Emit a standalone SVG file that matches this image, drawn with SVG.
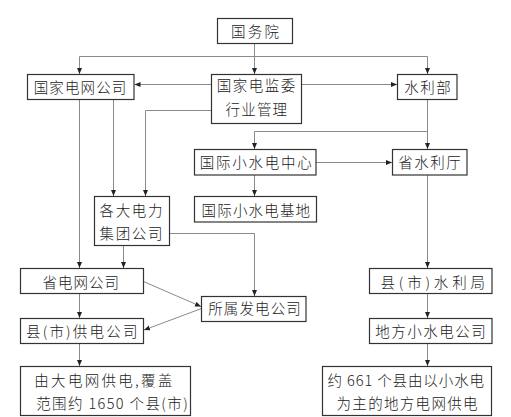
<svg xmlns="http://www.w3.org/2000/svg" width="511" height="417" viewBox="0 0 511 417">
<defs>
<marker id="ah" markerUnits="userSpaceOnUse" markerWidth="7" markerHeight="6" refX="6" refY="2.5" orient="auto">
<path d="M0,0 L6,2.5 L0,5 z" fill="#222"/>
</marker>
<style>
.box{fill:#fff;stroke:#333;stroke-width:1.2}
.ln{fill:none;stroke:#8a8a8a;stroke-width:1}
.ar{marker-end:url(#ah)}
text{font-family:"Noto Sans CJK SC","Noto Sans",sans-serif;font-size:14.5px;font-weight:300;fill:#222;text-anchor:middle}
</style>
</defs>
<rect width="511" height="417" fill="#fff"/>
<g id="connectors">
<path class="ln ar" d="M254.5,43.5 V74"/>
<path class="ln" d="M79.5,56.5 H427.5"/>
<path class="ln ar" d="M79.5,56.5 V74"/>
<path class="ln ar" d="M427.5,56.5 V74"/>
<path class="ln ar" d="M211.5,84.5 H134.5"/>
<path class="ln ar" d="M301.5,84.5 H397"/>
<path class="ln ar" d="M79.5,99.5 V268"/>
<path class="ln ar" d="M113.5,99.5 V196"/>
<path class="ln ar" d="M211.5,110.5 H145.5 V196"/>
<path class="ln ar" d="M427.5,99.5 V149"/>
<path class="ln ar" d="M427.5,131.5 H254.5 V149"/>
<path class="ln ar" d="M316,162.5 H392"/>
<path class="ln ar" d="M254.5,175 V196"/>
<path class="ln ar" d="M169.5,233.5 H254.5 V296"/>
<path class="ln ar" d="M123.5,245.5 V268"/>
<path class="ln ar" d="M427.5,175 V268"/>
<path class="ln ar" d="M143.5,281.5 L201,306.5"/>
<path class="ln ar" d="M201.5,308.5 L144,330"/>
<path class="ln ar" d="M79.5,293.5 V318"/>
<path class="ln ar" d="M79.5,343.5 V366"/>
<path class="ln ar" d="M427.5,293.5 V318"/>
<path class="ln ar" d="M427.5,343.5 V366"/>
</g>
<g id="n1"><rect class="box" x="217.5" y="18.5" width="75" height="25"/><text x="255" y="37" textLength="48" lengthAdjust="spacing">国务院</text></g>
<g id="n2"><rect class="box" x="27.5" y="74.5" width="106.5" height="25"/><text x="80" y="92.7" textLength="92.5" lengthAdjust="spacing">国家电网公司</text></g>
<g id="n3"><rect class="box" x="211.5" y="74.5" width="90" height="49"/><text x="256" y="90.8" textLength="78.5" lengthAdjust="spacing">国家电监委</text><text x="256.3" y="115" textLength="61.5" lengthAdjust="spacing">行业管理</text></g>
<g id="n4"><rect class="box" x="397.5" y="74.5" width="59.5" height="25"/><text x="427.5" y="92.7" textLength="46.5" lengthAdjust="spacing">水利部</text></g>
<g id="n5"><rect class="box" x="194.5" y="149.5" width="121.5" height="25.5"/><text x="255.7" y="168.3" textLength="112" lengthAdjust="spacing">国际小水电中心</text></g>
<g id="n6"><rect class="box" x="392.5" y="149.5" width="74.5" height="25.5"/><text x="429.5" y="168.3" textLength="62.5" lengthAdjust="spacing">省水利厅</text></g>
<g id="n7"><rect class="box" x="194.5" y="196.5" width="122" height="25.5"/><text x="255.8" y="215.8" textLength="108.5" lengthAdjust="spacing">国际小水电基地</text></g>
<g id="n8"><rect class="box" x="94.5" y="196.5" width="75" height="49"/><text x="131" y="216.3" textLength="63" lengthAdjust="spacing">各大电力</text><text x="131" y="238.8" textLength="63" lengthAdjust="spacing">集团公司</text></g>
<g id="n9"><rect class="box" x="20.5" y="268.5" width="123" height="25"/><text x="80.8" y="287.7" textLength="76.5" lengthAdjust="spacing">省电网公司</text></g>
<g id="n10"><rect class="box" x="369.5" y="268.5" width="122.5" height="25"/><text x="432.7" y="287.7" textLength="104.5" lengthAdjust="spacing">县(市)水利局</text></g>
<g id="n11"><rect class="box" x="201.5" y="296.5" width="104.5" height="25"/><text x="254.5" y="313.8" textLength="92.5" lengthAdjust="spacing">所属发电公司</text></g>
<g id="n12"><rect class="box" x="20.5" y="318.5" width="123" height="25"/><text x="81.7" y="337.2" textLength="111.5" lengthAdjust="spacing">县(市)供电公司</text></g>
<g id="n13"><rect class="box" x="369.5" y="318.5" width="122.5" height="25"/><text x="430.5" y="337.2" textLength="110.5" lengthAdjust="spacing">地方小水电公司</text></g>
<g id="n14"><rect class="box" x="20.5" y="366.5" width="170" height="49"/><text x="103.3" y="385.5" textLength="138" lengthAdjust="spacing">由大电网供电,覆盖</text><text x="112" y="408.8" textLength="151.5" lengthAdjust="spacing">范围约 1650 个县(市)</text></g>
<g id="n15"><rect class="box" x="322.5" y="366.5" width="169" height="49"/><text x="405.8" y="385.5" textLength="156.5" lengthAdjust="spacing">约 661 个县由以小水电</text><text x="407" y="408.8" textLength="141" lengthAdjust="spacing">为主的地方电网供电</text></g>
</svg>
